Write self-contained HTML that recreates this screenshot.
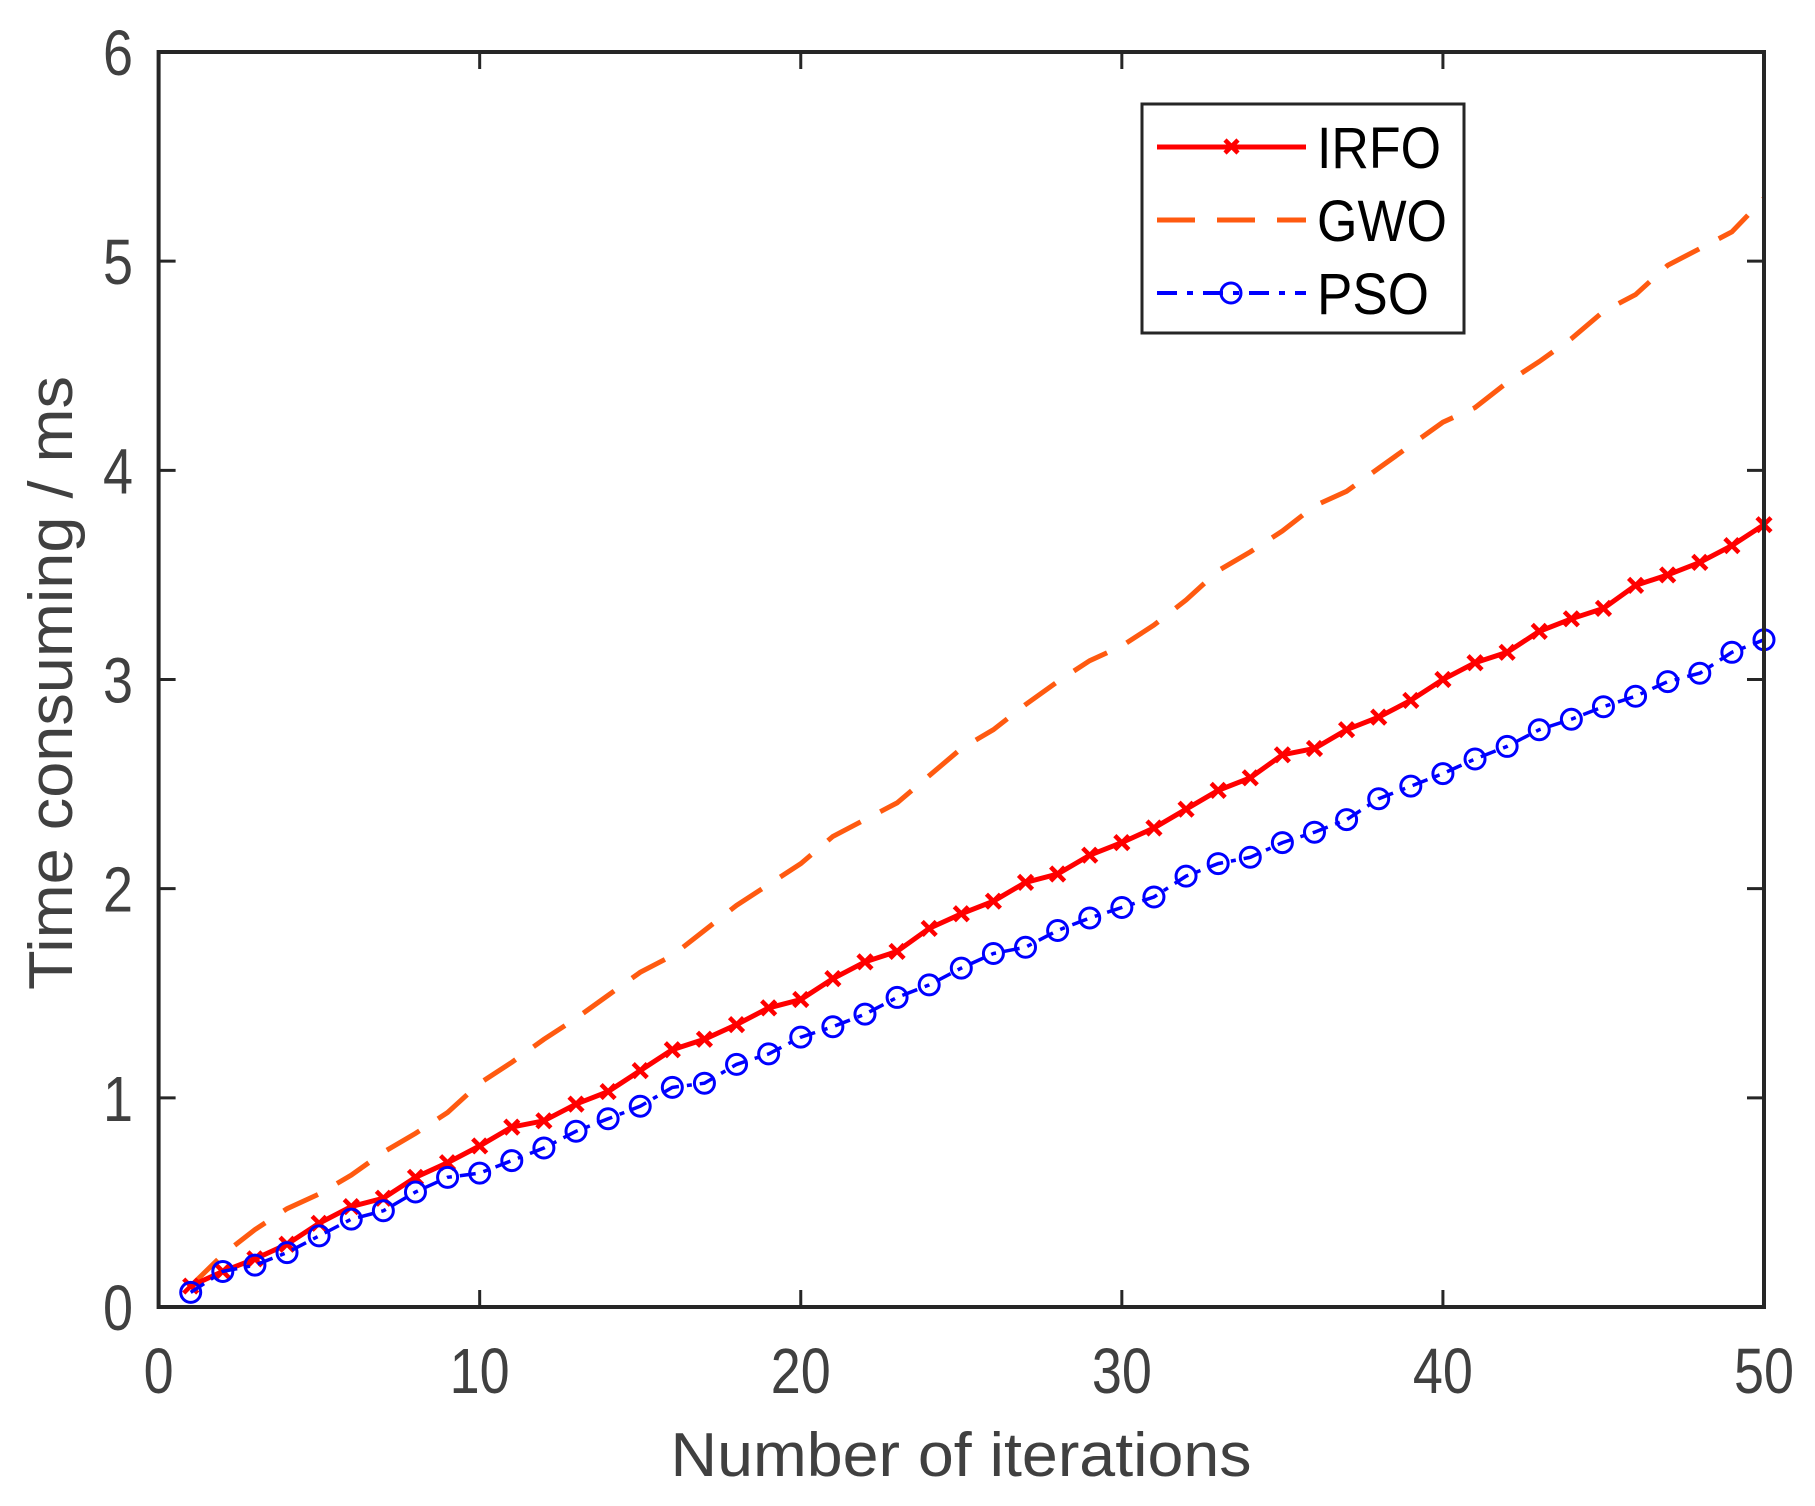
<!DOCTYPE html>
<html><head><meta charset="utf-8"><style>body{margin:0;background:#fff}svg{display:block}</style></head>
<body>
<svg id="chart" width="1815" height="1506" viewBox="0 0 1815 1506" xmlns="http://www.w3.org/2000/svg" font-family="'Liberation Sans', sans-serif">
<rect width="1815" height="1506" fill="#fff"/>
<g id="plot"></g>
<g id="axes"></g>
<text x="961" y="1476" font-size="62" fill="#404040" text-anchor="middle" textLength="581" lengthAdjust="spacingAndGlyphs">Number of iterations</text>
<text transform="translate(72,683) rotate(-90)" font-size="62" fill="#404040" text-anchor="middle" textLength="614" lengthAdjust="spacingAndGlyphs">Time consuming / ms</text>
<g>
<rect x="1142" y="104" width="322" height="229" fill="#fff" stroke="#262626" stroke-width="3"/>
<line x1="1157" y1="147" x2="1306" y2="147" stroke="#ff0000" stroke-width="5"/>
<path d="M1225,140 l13,13 M1238,140 l-13,13" stroke="#ff0000" stroke-width="4.5"/>
<text x="1317" y="168" font-size="58" textLength="124" lengthAdjust="spacingAndGlyphs">IRFO</text>
<line x1="1157" y1="220" x2="1306" y2="220" stroke="#ff5a10" stroke-width="5" stroke-dasharray="38,22"/>
<text x="1317" y="241" font-size="58" textLength="130" lengthAdjust="spacingAndGlyphs">GWO</text>
<line x1="1157" y1="293" x2="1306" y2="293" stroke="#0000ff" stroke-width="4" stroke-dasharray="20,10,6,10"/>
<circle cx="1231" cy="293" r="10" fill="none" stroke="#0000ff" stroke-width="3"/>
<text x="1317" y="314" font-size="58" textLength="112" lengthAdjust="spacingAndGlyphs">PSO</text>
</g>
</svg>
<script>
const iterations = Array.from({length:50},(_,i)=>i+1);
const irfo = [0.1,0.17,0.23,0.3,0.4,0.48,0.52,0.62,0.69,0.77,0.86,0.89,0.97,1.03,1.13,1.23,1.28,1.35,1.43,1.47,1.57,1.65,1.7,1.81,1.88,1.94,2.03,2.07,2.16,2.22,2.29,2.38,2.47,2.53,2.64,2.67,2.76,2.82,2.9,3.0,3.08,3.13,3.23,3.29,3.34,3.45,3.5,3.56,3.64,3.74];
const gwo = [0.1,0.25,0.37,0.47,0.54,0.63,0.74,0.83,0.93,1.07,1.17,1.28,1.38,1.49,1.6,1.68,1.8,1.92,2.02,2.12,2.25,2.33,2.41,2.54,2.67,2.76,2.88,2.99,3.09,3.16,3.26,3.38,3.52,3.61,3.71,3.83,3.9,4.01,4.12,4.23,4.3,4.42,4.52,4.63,4.76,4.84,4.98,5.06,5.14,5.3];
const pso = [0.07,0.17,0.2,0.26,0.34,0.42,0.46,0.55,0.62,0.64,0.7,0.76,0.84,0.9,0.96,1.05,1.07,1.16,1.21,1.29,1.34,1.4,1.48,1.54,1.62,1.69,1.72,1.8,1.86,1.91,1.96,2.06,2.12,2.15,2.22,2.27,2.33,2.43,2.49,2.55,2.62,2.68,2.76,2.81,2.87,2.92,2.99,3.03,3.13,3.19];
const xTicks = [0,10,20,30,40,50];
const yTicks = [0,1,2,3,4,5,6];

const L=158.6,R=1764,T=52,B=1307;
const sx=v=>L+(v-0)/(50-0)*(R-L);
const sy=v=>B-(v-0)/(6-0)*(B-T);
const NS='http://www.w3.org/2000/svg';
const plot=document.getElementById('plot'), axes=document.getElementById('axes');
function mk(tag,attrs,parent){const e=document.createElementNS(NS,tag);for(const k in attrs)e.setAttribute(k,attrs[k]);parent.appendChild(e);return e;}
function pts(arr){return arr.map((v,i)=>sx(iterations[i]).toFixed(1)+','+sy(v).toFixed(1)).join(' ');}

let g=mk('polyline',{points:pts(gwo),fill:'none',stroke:'#ff5a10','stroke-width':5,'stroke-dasharray':'38,22'},plot);



let r=mk('polyline',{points:pts(irfo),fill:'none',stroke:'#ff0000','stroke-width':5},plot);


irfo.forEach((v,i)=>{const x=sx(iterations[i]),y=sy(v);
 const m=mk('path',{d:`M${x-7},${y-7} l14,14 M${x+7},${y-7} l-14,14`,stroke:'#ff0000','stroke-width':4.5},plot);
 
 });

let p=mk('polyline',{points:pts(pso),fill:'none',stroke:'#0000ff','stroke-width':3.5,'stroke-dasharray':'16,8,5,8'},plot);


pso.forEach((v,i)=>{
 const c=mk('circle',{cx:sx(iterations[i]),cy:sy(v),r:10,fill:'none',stroke:'#0000ff','stroke-width':3},plot);
 
 });

mk('rect',{x:L,y:T,width:R-L,height:B-T,fill:'none',stroke:'#262626','stroke-width':4},axes);
xTicks.forEach(t=>{const x=sx(t);
 mk('line',{x1:x,y1:B,x2:x,y2:B-17,stroke:'#262626','stroke-width':3},axes);
 mk('line',{x1:x,y1:T,x2:x,y2:T+17,stroke:'#262626','stroke-width':3},axes);
 const tx=mk('text',{x:x,y:1393,'font-size':64,fill:'#404040','text-anchor':'middle',textLength:String(t).length*30,lengthAdjust:'spacingAndGlyphs'},axes);
 tx.textContent=t;
 
 });
yTicks.forEach(t=>{const y=sy(t);
 mk('line',{x1:L,y1:y,x2:L+17,y2:y,stroke:'#262626','stroke-width':3},axes);
 mk('line',{x1:R,y1:y,x2:R-17,y2:y,stroke:'#262626','stroke-width':3},axes);
 const tx=mk('text',{x:133,y:y+23,'font-size':64,fill:'#404040','text-anchor':'end',textLength:30,lengthAdjust:'spacingAndGlyphs'},axes);
 tx.textContent=t;
 
 });
</script>
</body></html>
